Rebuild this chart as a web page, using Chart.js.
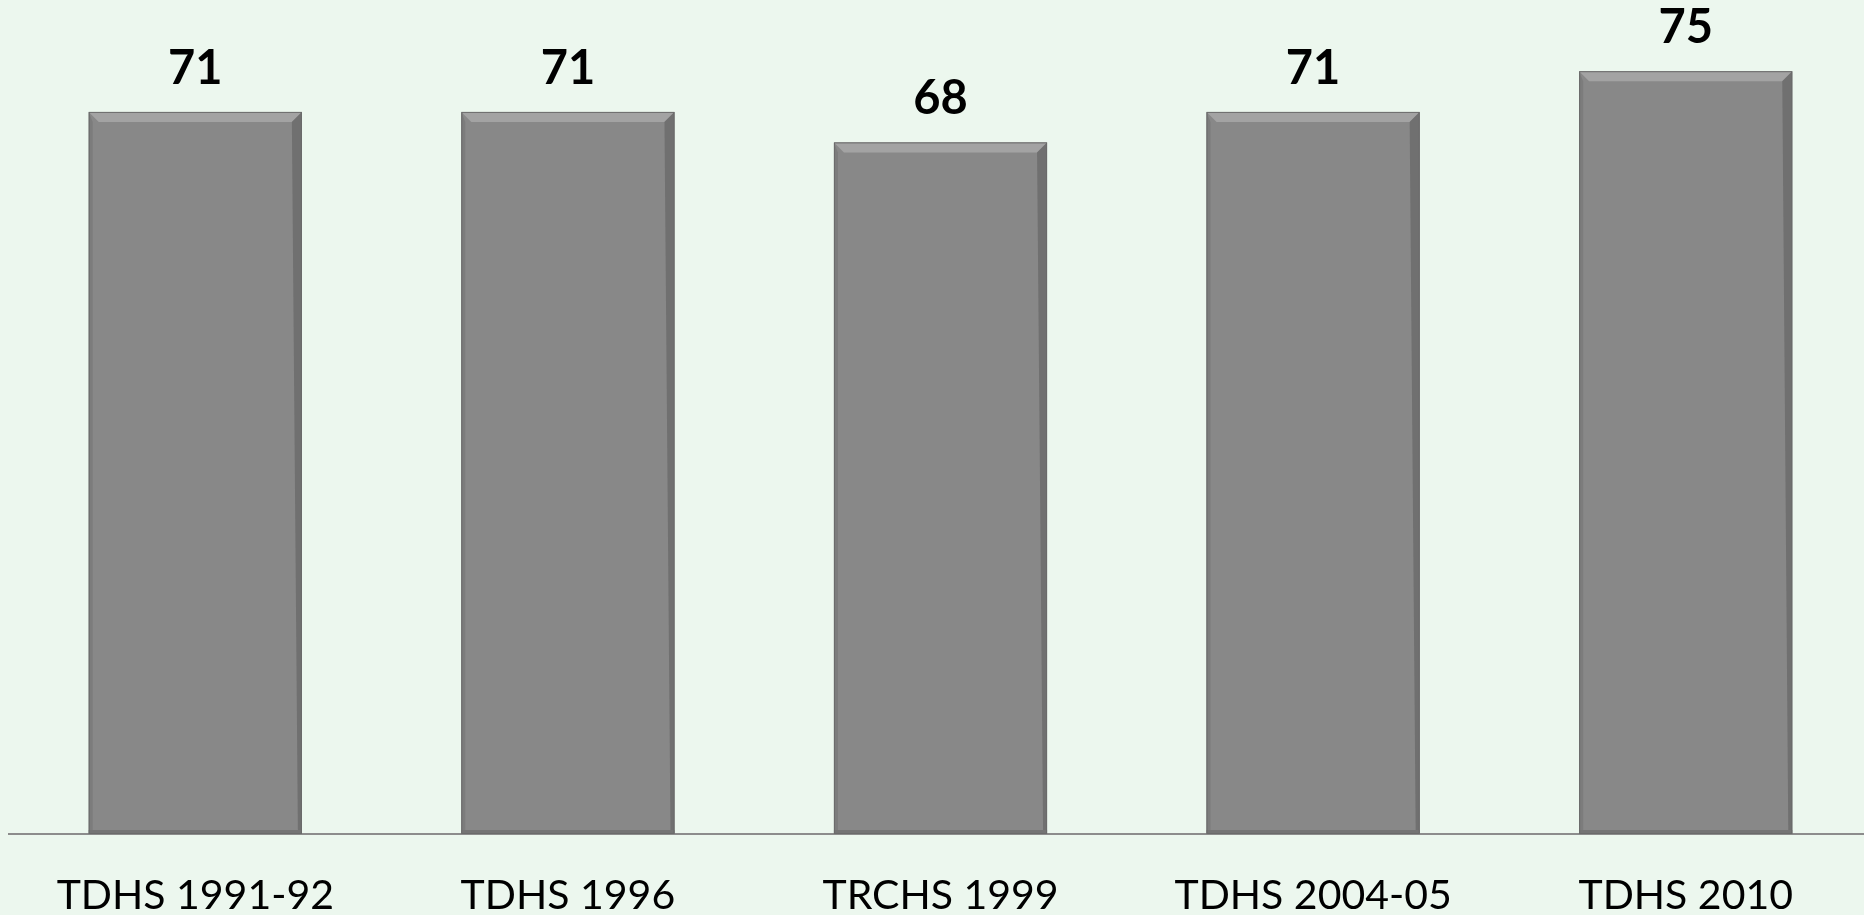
<!DOCTYPE html>
<html>
<head>
<meta charset="utf-8">
<script src="https://cdn.jsdelivr.net/npm/chart.js@4"></script>
<style>
    html, body { margin: 0; padding: 0; background: #ecf7ee; overflow: hidden; }
    #wrap { width: 1872px; height: 915px; }
</style>
</head>
<body>
<div id="wrap"><canvas id="chart" width="1872" height="915"></canvas></div>
<script>
const surveys = ['TDHS 1991-92', 'TDHS 1996', 'TRCHS 1999', 'TDHS 2004-05', 'TDHS 2010'];
const values = [71, 71, 68, 71, 75];
const yMax = 82;

// value labels on top of each bar
const valueLabels = {
    id: 'valueLabels',
    afterDatasetsDraw(chart) {
        const ctx = chart.ctx;
        const meta = chart.getDatasetMeta(0);
        ctx.save();
        ctx.fillStyle = '#000';
        ctx.font = 'bold 47px Lato, "Open Sans", sans-serif';
        ctx.textAlign = 'center';
        ctx.textBaseline = 'bottom';
        meta.data.forEach((bar, i) => {
            ctx.fillText(String(values[i]), bar.x, bar.y - 20);
        });
        ctx.restore();
    }
};

// soft bevel on the bars
const bevel = {
    id: 'bevel',
    afterDatasetsDraw(chart) {
        const ctx = chart.ctx;
        const meta = chart.getDatasetMeta(0);
        ctx.save();
        meta.data.forEach((bar) => {
            const l = bar.x - bar.width / 2;
            const r = bar.x + bar.width / 2;
            const t = bar.y;
            const b = bar.base;
            const d = 10;
            ctx.fillStyle = '#a3a3a3';
            ctx.beginPath();
            ctx.moveTo(l, t); ctx.lineTo(r, t); ctx.lineTo(r - d, t + d); ctx.lineTo(l + d, t + d);
            ctx.closePath(); ctx.fill();
            ctx.fillStyle = '#707070';
            ctx.beginPath();
            ctx.moveTo(r, t); ctx.lineTo(r, b); ctx.lineTo(r - 4, b - 4); ctx.lineTo(r - d, t + d);
            ctx.closePath(); ctx.fill();
            ctx.fillStyle = '#7c7c7c';
            ctx.beginPath();
            ctx.moveTo(l, t); ctx.lineTo(l + 4, t + d); ctx.lineTo(l + 4, b - 4); ctx.lineTo(l, b);
            ctx.closePath(); ctx.fill();
            ctx.fillStyle = '#747474';
            ctx.fillRect(l, b - 4, r - l, 4);
            ctx.strokeStyle = '#6a6a6a';
            ctx.lineWidth = 1;
            ctx.strokeRect(l + 0.5, t + 0.5, r - l - 1, b - t - 1);
        });
        ctx.restore();
    }
};

new Chart(document.getElementById('chart'), {
    type: 'bar',
    data: {
        labels: surveys,
        datasets: [
            {
                data: values,
                backgroundColor: '#888888',
                borderWidth: 0,
                categoryPercentage: 1.0,
                barPercentage: 0.572
            }
        ]
    },
    options: {
        responsive: false,
        animation: false,
        layout: {
            padding: { left: 9, right: 0, top: 0, bottom: 0 }
        },
        plugins: {
            legend: { display: false },
            tooltip: { enabled: false }
        },
        scales: {
            x: {
                grid: { display: false, drawTicks: false },
                border: { display: true, color: '#8c8c8c', width: 2 },
                ticks: {
                    color: '#000',
                    padding: 37,
                    maxRotation: 0,
                    autoSkip: false,
                    font: { family: 'Lato, "Open Sans", sans-serif', size: 41 }
                },
                afterFit(scale) {
                    scale.height = 81;
                }
            },
            y: {
                display: false,
                min: 0,
                max: yMax
            }
        }
    },
    plugins: [bevel, valueLabels]
});
</script>
</body>
</html>
